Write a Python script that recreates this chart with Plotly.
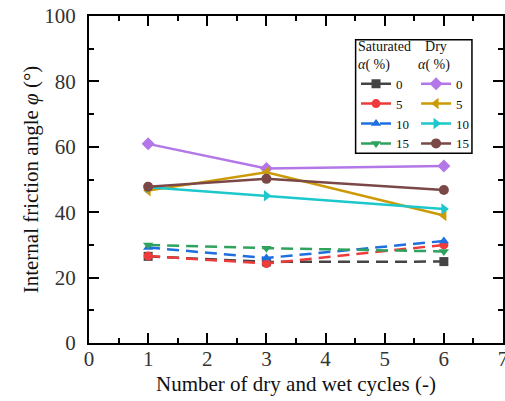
import plotly.graph_objects as go

cycles = [1, 3, 6]
sat_labels = ["0", "5", "10", "15"]
sat_values = [
    [26.5, 24.8, 24.9],
    [26.6, 24.3, 30.0],
    [29.2, 26.0, 31.2],
    [30.0, 29.0, 28.0],
]
dry_labels = ["0", "5", "10", "15"]
dry_values = [
    [60.9, 53.4, 54.1],
    [46.6, 52.2, 39.0],
    [47.6, 45.0, 41.0],
    [47.8, 50.2, 46.8],
]

sat_colors = ["#444444", "#ee3b3b", "#1f6fe0", "#2fa35e"]
dry_colors = ["#b477e8", "#cc9a06", "#1cc8cc", "#7a4947"]
sat_symbols = ["square", "circle", "triangle-up", "triangle-down"]
dry_symbols = ["diamond", "triangle-left", "triangle-right", "circle"]

FONT = "Liberation Serif"

fig = go.Figure()
for lab, vals, c, s in zip(sat_labels, sat_values, sat_colors, sat_symbols):
    fig.add_trace(go.Scatter(
        x=cycles, y=vals, name=lab, mode="lines+markers",
        line=dict(color=c, width=2.5, dash="12px,7px"),
        marker=dict(symbol=s, size=9, color=c),
        legend="legend"))
for lab, vals, c, s in zip(dry_labels, dry_values, dry_colors, dry_symbols):
    fig.add_trace(go.Scatter(
        x=cycles, y=vals, name=lab, mode="lines+markers",
        line=dict(color=c, width=2.5),
        marker=dict(symbol=s, size=10, color=c),
        legend="legend2"))

axis_common = dict(
    showline=True, linecolor="black", linewidth=2, mirror="ticks",
    ticks="inside", ticklen=10, tickwidth=2, tickcolor="black",
    showgrid=False, zeroline=False, automargin=False,
    ticklabeloverflow="allow",
    tickfont=dict(family=FONT, size=21, color="#333333"),
)

fig.update_xaxes(range=[0, 7], dtick=1, tick0=0, ticklabelstandoff=-4,
                 minor=dict(ticks="inside", ticklen=5, tickwidth=2, dtick=0.5, tickcolor="black"),
                 title=dict(text="Number of dry and wet cycles (-)",
                            font=dict(family=FONT, size=21, color="#111111"), standoff=6),
                 **axis_common)
fig.update_yaxes(range=[0, 100], dtick=20, tick0=0, ticklabelstandoff=7,
                 minor=dict(ticks="inside", ticklen=5, tickwidth=2, dtick=10, tickcolor="black"),
                 title=dict(text="Internal friction angle <i>φ</i> (°)",
                            font=dict(family=FONT, size=21, color="#111111"), standoff=0),
                 **axis_common)

leg_font = dict(family=FONT, size=13, color="#111111")
title_font = dict(family=FONT, size=14, color="#111111")
leg_common = dict(
    font=leg_font,
    bgcolor="rgba(255,255,255,0)", borderwidth=0,
    xanchor="left", yanchor="top", itemwidth=30,
    tracegroupgap=0,
)
fig.update_layout(
    legend=dict(x=0.645, y=0.95, title=dict(text="Saturated<br><i>α</i>( %)", font=title_font), **leg_common),
    legend2=dict(x=0.79, y=0.95, title=dict(text="&nbsp;&nbsp;Dry<br><i>α</i>( %)", font=title_font), **leg_common),
)

fig.add_shape(type="rect", xref="paper", yref="paper",
              x0=0.644, x1=0.925, y0=0.58, y1=0.927,
              line=dict(color="black", width=1.5), fillcolor="rgba(0,0,0,0)")

fig.update_layout(
    width=505, height=401,
    margin=dict(l=89, r=2, t=16, b=58, autoexpand=False),
    plot_bgcolor="white", paper_bgcolor="white",
    font=dict(family=FONT),
    showlegend=True,
)

fig.write_html(
    "out.html",
    config={"displayModeBar": False, "responsive": False},
    post_script=(
        "document.body.style.margin='0';"
        "document.body.style.overflow='hidden';"
        "document.documentElement.style.overflow='hidden';"
    ),
)
